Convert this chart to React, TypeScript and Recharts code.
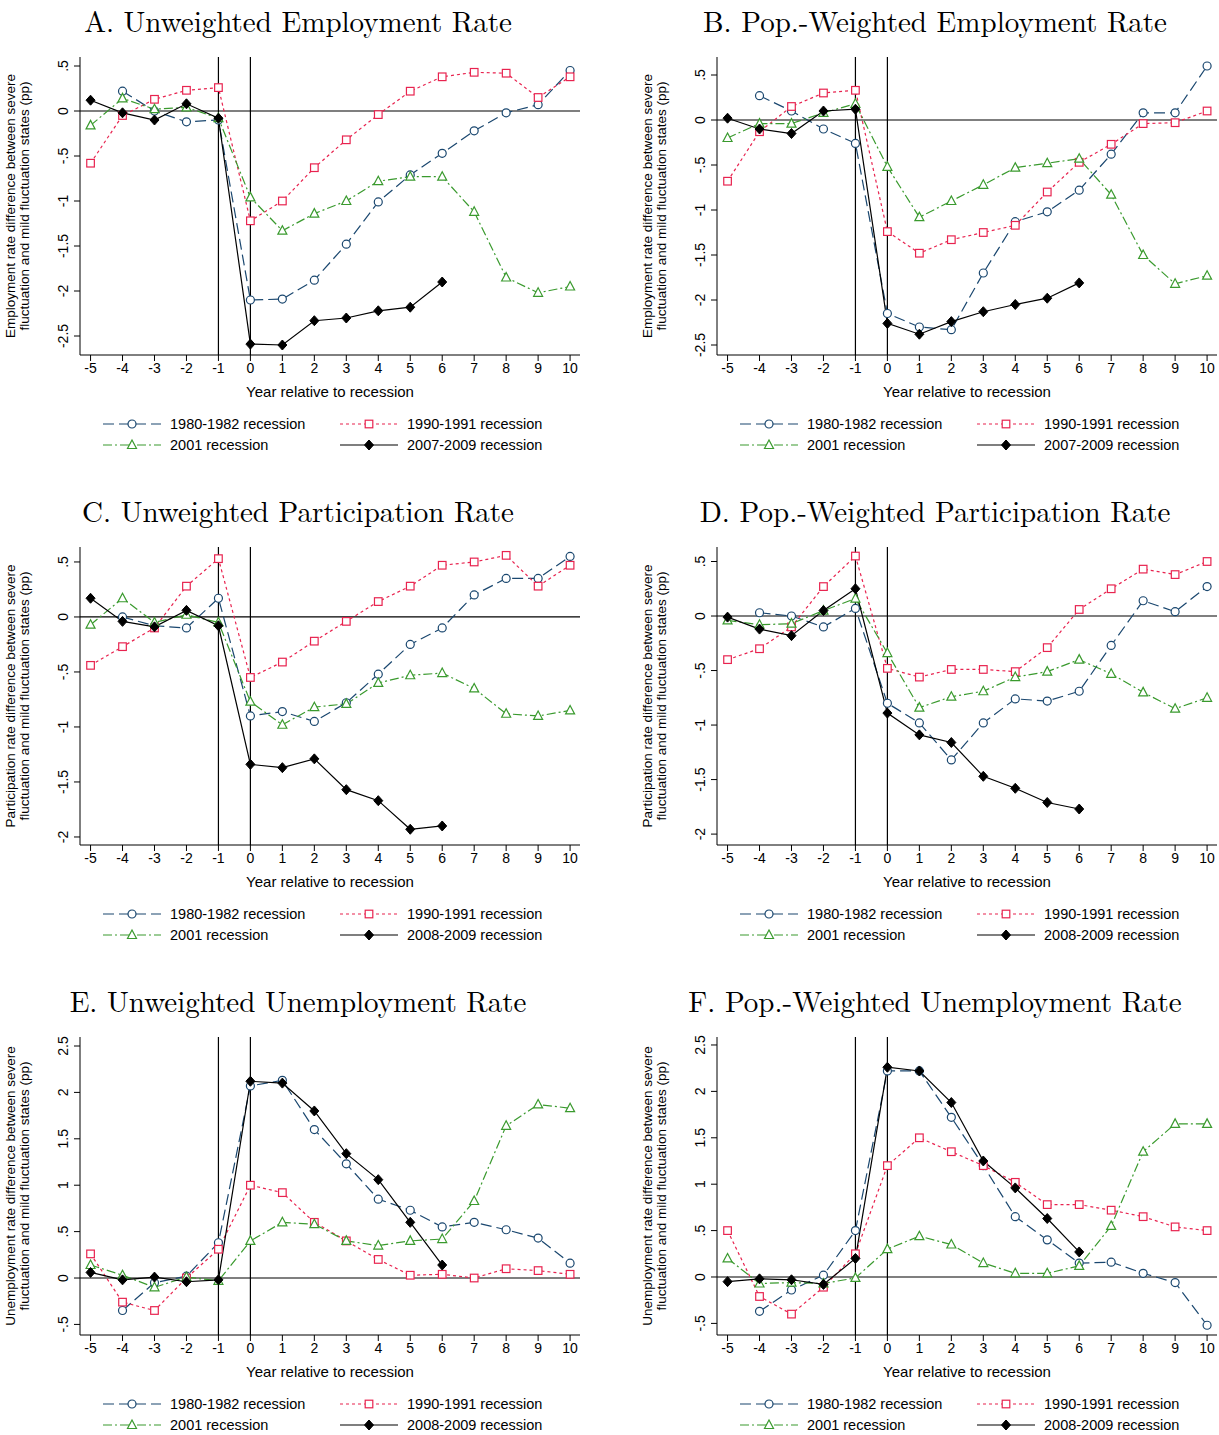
import React from 'react';
import { LineChart, Line, XAxis, YAxis, ReferenceLine } from 'recharts';

const years = [-5,-4,-3,-2,-1,0,1,2,3,4,5,6,7,8,9,10];
const xTicks = years;
const N = null;

const A_1980 = [N,0.22,0.0,-0.12,-0.1,-2.1,-2.09,-1.88,-1.48,-1.01,-0.71,-0.47,-0.22,-0.02,0.07,0.45];
const A_1990 = [-0.58,-0.05,0.13,0.23,0.26,-1.22,-1.0,-0.63,-0.32,-0.04,0.22,0.38,0.43,0.42,0.15,0.38];
const A_2001 = [-0.16,0.14,0.02,0.04,-0.08,-0.96,-1.33,-1.14,-1.0,-0.78,-0.73,-0.73,-1.12,-1.85,-2.02,-1.95];
const A_2008 = [0.12,-0.02,-0.1,0.08,-0.08,-2.59,-2.6,-2.33,-2.3,-2.22,-2.18,-1.9,N,N,N,N];

const B_1980 = [N,0.27,0.1,-0.1,-0.26,-2.15,-2.3,-2.33,-1.7,-1.13,-1.02,-0.78,-0.38,0.08,0.08,0.6];
const B_1990 = [-0.68,-0.13,0.15,0.3,0.33,-1.24,-1.48,-1.33,-1.25,-1.17,-0.8,-0.47,-0.27,-0.04,-0.03,0.1];
const B_2001 = [-0.2,-0.04,-0.04,0.08,0.18,-0.52,-1.08,-0.9,-0.72,-0.53,-0.48,-0.43,-0.83,-1.5,-1.82,-1.73];
const B_2008 = [0.02,-0.1,-0.15,0.1,0.12,-2.26,-2.38,-2.24,-2.13,-2.05,-1.98,-1.81,N,N,N,N];

const C_1980 = [N,0.0,-0.08,-0.1,0.17,-0.9,-0.86,-0.95,-0.78,-0.52,-0.25,-0.1,0.2,0.35,0.35,0.55];
const C_1990 = [-0.44,-0.27,-0.1,0.28,0.53,-0.55,-0.41,-0.22,-0.04,0.14,0.28,0.47,0.5,0.56,0.28,0.47];
const C_2001 = [-0.07,0.17,-0.05,0.02,-0.05,-0.77,-0.98,-0.82,-0.79,-0.6,-0.53,-0.51,-0.65,-0.88,-0.9,-0.85];
const C_2008 = [0.17,-0.04,-0.09,0.06,-0.08,-1.34,-1.37,-1.29,-1.57,-1.67,-1.93,-1.9,N,N,N,N];

const D_1980 = [N,0.03,0.0,-0.1,0.07,-0.8,-0.98,-1.32,-0.98,-0.76,-0.78,-0.69,-0.27,0.14,0.04,0.27];
const D_1990 = [-0.4,-0.3,-0.1,0.27,0.55,-0.48,-0.56,-0.49,-0.49,-0.51,-0.29,0.06,0.25,0.43,0.38,0.5];
const D_2001 = [-0.04,-0.08,-0.07,0.05,0.16,-0.34,-0.84,-0.74,-0.69,-0.56,-0.51,-0.4,-0.53,-0.7,-0.85,-0.75];
const D_2008 = [-0.01,-0.12,-0.18,0.05,0.25,-0.89,-1.09,-1.16,-1.47,-1.58,-1.71,-1.77,N,N,N,N];

const E_1980 = [N,-0.35,-0.05,0.02,0.38,2.07,2.13,1.6,1.23,0.85,0.73,0.55,0.6,0.52,0.43,0.16];
const E_1990 = [0.26,-0.26,-0.35,0.0,0.31,1.0,0.92,0.6,0.4,0.2,0.03,0.04,0.0,0.1,0.08,0.04];
const E_2001 = [0.14,0.03,-0.1,0.01,-0.03,0.4,0.6,0.58,0.4,0.35,0.4,0.42,0.83,1.64,1.87,1.83];
const E_2008 = [0.06,-0.02,0.01,-0.04,-0.02,2.12,2.1,1.8,1.34,1.06,0.6,0.14,N,N,N,N];

const F_1980 = [N,-0.37,-0.14,0.02,0.5,2.22,2.22,1.72,1.2,0.65,0.4,0.15,0.16,0.04,-0.06,-0.52];
const F_1990 = [0.5,-0.21,-0.4,-0.11,0.25,1.2,1.5,1.35,1.2,1.02,0.78,0.78,0.72,0.65,0.54,0.5];
const F_2001 = [0.2,-0.07,-0.06,-0.07,-0.01,0.3,0.44,0.35,0.15,0.04,0.04,0.12,0.55,1.35,1.65,1.65];
const F_2008 = [-0.05,-0.02,-0.03,-0.08,0.2,2.26,2.22,1.88,1.25,0.96,0.63,0.27,N,N,N,N];

const empTicks = [0.5,0,-0.5,-1,-1.5,-2,-2.5];
const partTicks = [0.5,0,-0.5,-1,-1.5,-2];
const unTicks = [2.5,2,1.5,1,0.5,0,-0.5];

const BLUE = '#1a476f';
const RED = '#e8234f';
const GREEN = '#3a9a2e';
const BLACK = '#000';

const SANS = '"Liberation Sans", Arial, sans-serif';
const SERIF = '"Latin Modern Roman", "DejaVu Serif", "Liberation Serif", serif';

const series = [
  { key: 's1980', color: BLUE, dash: '11 5', shape: 'circle' },
  { key: 's1990', color: RED, dash: '3 3', shape: 'square' },
  { key: 's2001', color: GREEN, dash: '9 3 2 3', shape: 'triangle' },
  { key: 's2008', color: BLACK, dash: undefined, shape: 'diamond' },
];

function marker(shape: string, color: string, cx: number, cy: number, key?: any) {
  if (shape === 'circle') return <circle key={key} cx={cx} cy={cy} r={4} fill="#fff" stroke={color} strokeWidth={1.2} />;
  if (shape === 'square') return <rect key={key} x={cx - 3.8} y={cy - 3.8} width={7.6} height={7.6} fill="#fff" stroke={color} strokeWidth={1.2} />;
  if (shape === 'triangle') return <polygon key={key} points={`${cx},${cy - 5} ${cx - 4.5},${cy + 3.5} ${cx + 4.5},${cy + 3.5}`} fill="#fff" stroke={color} strokeWidth={1.2} />;
  return <polygon key={key} points={`${cx},${cy - 5} ${cx + 4.5},${cy} ${cx},${cy + 5} ${cx - 4.5},${cy}`} fill={color} stroke={color} />;
}

function fmt(v: number) {
  if (v === 0) return '0';
  const s = String(Math.abs(v)).replace(/^0\./, '.');
  return (v < 0 ? '-' : '') + s;
}

function YTick(props: any) {
  const { x, y, payload } = props;
  return (
    <text x={x - 4} y={y} transform={`rotate(-90 ${x - 4} ${y})`} textAnchor="middle" fontSize={14} fontFamily={SANS} fill="#000">
      {fmt(payload.value)}
    </text>
  );
}

function XTick(props: any) {
  const { x, y, payload } = props;
  return (
    <text x={x} y={y + 10} textAnchor="middle" fontSize={14} fontFamily={SANS} fill="#000">{payload.value}</text>
  );
}

type PanelProps = {
  left: number; row: number; title: string; ylab1: string; ylab2: string;
  d: (number | null)[][]; domain: [number, number]; ticks: number[]; lastLabel: string;
};

function Panel({ left, row, title, ylab1, ylab2, d, domain, ticks, lastLabel }: PanelProps) {
  const data = years.map((y, i) => ({ x: y, s1980: d[0][i], s1990: d[1][i], s2001: d[2][i], s2008: d[3][i] }));
  const W = left === 0 ? 600 : 582;
  const mr = W - 580;
  const labels = ['1980-1982 recession', '1990-1991 recession', '2001 recession', lastLabel];
  const legendPos = [[0, 0], [1, 0], [0, 1], [1, 1]];
  return (
    <>
      <div style={{ position: 'absolute', left: left - 2, top: row, width: 600, textAlign: 'center', fontFamily: SERIF, fontSize: 29, lineHeight: '40px' }}>{title}</div>
      <div style={{ position: 'absolute', left, top: row + 45 }}>
        <LineChart width={W} height={355} data={data} margin={{ top: 12, right: mr, bottom: 15, left: 0 }}>
          <XAxis dataKey="x" type="number" domain={[-5.33, 10.31]} ticks={xTicks} interval={0} allowDataOverflow
            tick={<XTick />} tickLine={{ stroke: '#000' }} axisLine={{ stroke: '#000' }} tickSize={6} height={30} />
          <YAxis type="number" domain={domain} ticks={ticks} interval={0} allowDataOverflow width={80}
            tick={<YTick />} tickLine={{ stroke: '#000' }} axisLine={{ stroke: '#000' }} tickSize={6}
            label={{
              content: (p: any) => {
                const vb = p.viewBox;
                const cy = vb.y + vb.height / 2;
                return (
                  <g>
                    <text x={15} y={cy} transform={`rotate(-90 15 ${cy})`} textAnchor="middle" fontSize={13.5} fontFamily={SANS}>{ylab1}</text>
                    <text x={29} y={cy} transform={`rotate(-90 29 ${cy})`} textAnchor="middle" fontSize={13.5} fontFamily={SANS}>{ylab2}</text>
                  </g>
                );
              }
            }} />
          <ReferenceLine y={0} stroke="#000" strokeWidth={1.2} />
          <ReferenceLine x={-1} stroke="#000" strokeWidth={1.2} />
          <ReferenceLine x={0} stroke="#000" strokeWidth={1.2} />
          {series.map(s => (
            <Line key={s.key} dataKey={s.key} stroke={s.color} strokeWidth={1.2} strokeDasharray={s.dash}
              isAnimationActive={false} connectNulls={false}
              dot={(p: any) => (p.cx == null || p.cy == null || p.value == null) ? <g key={p.key} /> : marker(s.shape, s.color, p.cx, p.cy, p.key)}
              activeDot={false} />
          ))}
        </LineChart>
      </div>
      <div style={{ position: 'absolute', left: left + 80, top: row + 383, fontFamily: SANS, fontSize: 15, width: 500, textAlign: 'center' }}>
        Year relative to recession
      </div>
      {series.map((s, i) => {
        const [c, r] = legendPos[i];
        const lx = left + 102 + c * 237;
        const ly = row + 414 + r * 21;
        return (
          <div key={s.key} style={{ position: 'absolute', left: lx, top: ly, display: 'flex', alignItems: 'center', fontFamily: SANS, fontSize: 14.5, whiteSpace: 'nowrap', height: 20 }}>
            <svg width={60} height={20} style={{ marginRight: 8 }}>
              <line x1={1} y1={10} x2={59} y2={10} stroke={s.color} strokeWidth={1.2} strokeDasharray={s.dash} />
              {marker(s.shape, s.color, 30, 10)}
            </svg>
            <span>{labels[i]}</span>
          </div>
        );
      })}
    </>
  );
}

export default function App() {
  return (
    <div style={{ position: 'absolute', left: 0, top: 0, width: 1219, height: 1435, background: '#fff', overflow: 'hidden' }}>
      <Panel left={0} row={0} title="A. Unweighted Employment Rate" ylab1="Employment rate difference between severe" ylab2="fluctuation and mild fluctuation states (pp)"
        d={[A_1980, A_1990, A_2001, A_2008]} domain={[-2.711, 0.6]} ticks={empTicks} lastLabel="2007-2009 recession" />
      <Panel left={637} row={0} title="B. Pop.-Weighted Employment Rate" ylab1="Employment rate difference between severe" ylab2="fluctuation and mild fluctuation states (pp)"
        d={[B_1980, B_1990, B_2001, B_2008]} domain={[-2.611, 0.7]} ticks={empTicks} lastLabel="2007-2009 recession" />
      <Panel left={0} row={490} title="C. Unweighted Participation Rate" ylab1="Participation rate difference between severe" ylab2="fluctuation and mild fluctuation states (pp)"
        d={[C_1980, C_1990, C_2001, C_2008]} domain={[-2.073, 0.636]} ticks={partTicks} lastLabel="2008-2009 recession" />
      <Panel left={637} row={490} title="D. Pop.-Weighted Participation Rate" ylab1="Participation rate difference between severe" ylab2="fluctuation and mild fluctuation states (pp)"
        d={[D_1980, D_1990, D_2001, D_2008]} domain={[-2.10, 0.633]} ticks={partTicks} lastLabel="2008-2009 recession" />
      <Panel left={0} row={980} title="E. Unweighted Unemployment Rate" ylab1="Unemployment rate difference between severe" ylab2="fluctuation and mild fluctuation states (pp)"
        d={[E_1980, E_1990, E_2001, E_2008]} domain={[-0.614, 2.597]} ticks={unTicks} lastLabel="2008-2009 recession" />
      <Panel left={637} row={980} title="F. Pop.-Weighted Unemployment Rate" ylab1="Unemployment rate difference between severe" ylab2="fluctuation and mild fluctuation states (pp)"
        d={[F_1980, F_1990, F_2001, F_2008]} domain={[-0.625, 2.586]} ticks={unTicks} lastLabel="2008-2009 recession" />
    </div>
  );
}
